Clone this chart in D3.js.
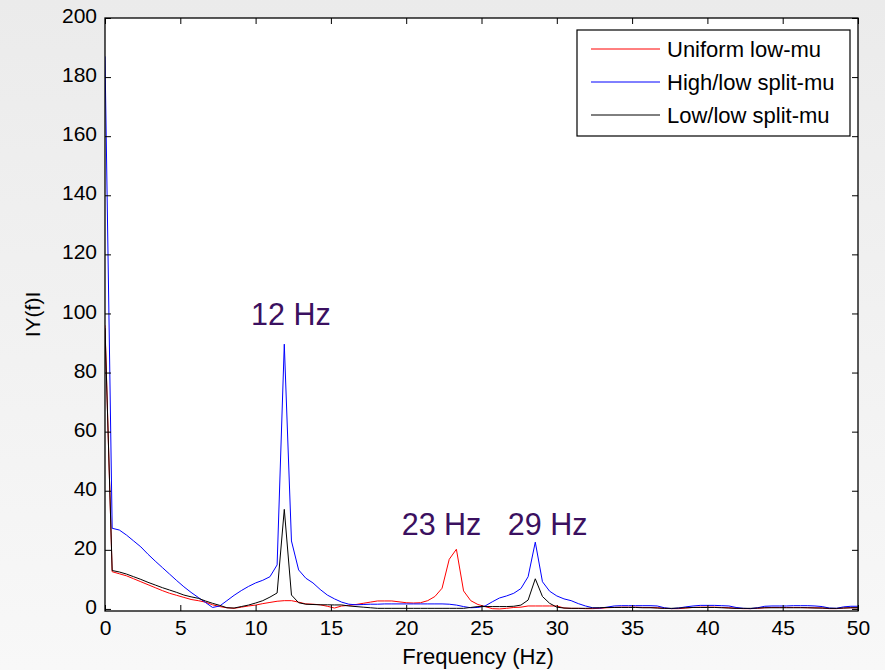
<!DOCTYPE html>
<html>
<head>
<meta charset="utf-8">
<script src="https://cdn.jsdelivr.net/npm/d3@7"></script>
<style>
  html, body { margin: 0; padding: 0; }
  body { width: 885px; height: 670px; overflow: hidden; }
  svg { display: block; }
  text { font-family: "Liberation Sans", Arial, Helvetica, sans-serif; }
</style>
</head>
<body>
<svg id="chart" width="885" height="670"></svg>
<script>
// Spectrum sampled every 1/2.1 Hz from 0 to 50 Hz (106 bins)
const binCount = 106;
const binWidth = 1 / 2.1;

const seriesNames = ["Uniform low-mu", "High/low split-mu", "Low/low split-mu"];
const seriesColors = ["#ff0000", "#0000ff", "#000000"];

const uniformLow = [
  96, 12.6, 11.9, 11.2, 10.2, 9.2, 8.2, 7.2, 6.2, 5.3,
  4.6, 3.9, 3.2, 2.8, 2.3, 1.4, 0.8, 0.4, 0.2, 0.6,
  1.0, 1.3, 1.8, 2.2, 2.6, 2.8, 2.8, 2.3, 1.7, 1.6,
  1.4, 0.9, 0.3, 1.0, 1.2, 1.5, 1.9, 2.3, 2.7, 2.7,
  2.7, 2.4, 2.1, 2.0, 2.1, 2.8, 4.2, 7.0, 16.8, 20.2,
  6.1, 2.8, 1.5, 0.8, 0.1, 0.0, 0.2, 0.5, 0.6, 1.0,
  1.0, 1.0, 1.0, 1.0, 0.3, 0.2, 0.2, 0.1, 0.1, 0.2,
  0.4, 0.5, 0.6, 0.6, 0.6, 0.5, 0.5, 0.4, 0.2, 0.1,
  0.1, 0.3, 0.5, 0.6, 0.6, 0.6, 0.5, 0.4, 0.2, 0.1,
  0.1, 0.2, 0.4, 0.5, 0.5, 0.5, 0.5, 0.5, 0.4, 0.4,
  0.3, 0.1, 0.1, 0.3, 0.4, 0.4
];

const highLowSplit = [
  187, 27.3, 26.7, 25.0, 23.0, 21.0, 18.5, 16.2, 14.0, 11.8,
  9.6, 7.5, 5.6, 3.9, 2.2, 0.5, 1.0, 2.8, 4.6, 6.2,
  7.6, 8.8, 9.7, 10.9, 14.9, 89.6, 23.0, 13.2, 10.4, 8.8,
  6.6, 4.7, 3.4, 2.3, 1.6, 1.4, 1.5, 1.6, 1.6, 1.7,
  1.7, 1.7, 1.7, 1.7, 1.7, 1.7, 1.7, 1.7, 1.6, 1.3,
  0.8, 0.4, 0.5, 1.0, 2.4, 3.7, 4.4, 5.3, 6.9, 10.9,
  22.6, 9.2, 6.0, 4.4, 3.4, 2.8, 1.8, 1.0, 0.4, 0.3,
  0.6, 1.0, 1.1, 1.1, 1.1, 1.1, 1.1, 1.0, 0.4, 0.1,
  0.3, 0.7, 1.0, 1.2, 1.2, 1.2, 1.1, 1.0, 0.5, 0.2,
  0.1, 0.4, 0.9, 1.0, 1.0, 1.0, 1.1, 1.1, 1.1, 1.0,
  0.8, 0.3, 0.2, 0.7, 0.9, 0.9
];

const lowLowSplit = [
  95, 13.0, 12.5, 11.8, 10.9, 10.0, 9.0, 8.1, 7.2, 6.4,
  5.6, 4.7, 4.1, 3.6, 2.7, 1.9, 1.2, 0.4, 0.3, 0.8,
  1.3, 2.0, 2.8, 4.0, 5.4, 33.7, 4.7, 2.1, 1.6, 1.5,
  1.4, 1.4, 1.35, 1.35, 1.0, 0.8, 0.6, 0.4, 0.2, 0.2,
  0.2, 0.2, 0.2, 0.2, 0.2, 0.2, 0.2, 0.2, 0.2, 0.2,
  0.2, 0.5, 0.8, 0.8, 0.8, 0.8, 0.8, 0.9, 1.3, 3.0,
  10.2, 4.2, 1.9, 0.6, 0.3, 0.2, 0.2, 0.2, 0.3, 0.4,
  0.5, 0.5, 0.5, 0.5, 0.5, 0.4, 0.4, 0.3, 0.2, 0.2,
  0.3, 0.4, 0.5, 0.5, 0.5, 0.5, 0.4, 0.3, 0.2, 0.2,
  0.2, 0.3, 0.4, 0.4, 0.4, 0.4, 0.4, 0.4, 0.4, 0.3,
  0.3, 0.2, 0.2, 0.3, 0.4, 0.4
];

const xTicks = [0, 5, 10, 15, 20, 25, 30, 35, 40, 45, 50];
const yTicks = [0, 20, 40, 60, 80, 100, 120, 140, 160, 180, 200];

const peakLabels = ["12 Hz", "23 Hz", "29 Hz"];
const peakLabelFreq = [9.7, 19.7, 26.75];
const peakLabelAmp = [96.1, 25, 25];

const xTitle = "Frequency (Hz)";
const yTitle = "IY(f)I";

// ---- layout ----
const W = 885, H = 670;
const plot = { left: 105, right: 858, top: 18, bottom: 611 };

const svg = d3.select("#chart");

// soft grey page background
const defs = svg.append("defs");
const grad = defs.append("linearGradient")
  .attr("id", "bg").attr("x1", 0).attr("y1", 0).attr("x2", 0).attr("y2", 1);
grad.append("stop").attr("offset", "0%").attr("stop-color", "#ebebeb");
grad.append("stop").attr("offset", "100%").attr("stop-color", "#f8f8f8");
svg.append("rect").attr("width", W).attr("height", H).attr("fill", "url(#bg)");

const x = d3.scaleLinear().domain([0, 50]).range([plot.left, plot.right]);
const y = d3.scaleLinear().domain([-0.7, 200]).range([plot.bottom, plot.top]);

// white axes area
svg.append("rect")
  .attr("x", plot.left).attr("y", plot.top)
  .attr("width", plot.right - plot.left).attr("height", plot.bottom - plot.top)
  .attr("fill", "#ffffff");

const freqs = d3.range(binCount).map(i => i * binWidth);
const allSeries = [uniformLow, highLowSplit, lowLowSplit];

const clip = defs.append("clipPath").attr("id", "plotClip");
clip.append("rect")
  .attr("x", plot.left).attr("y", plot.top)
  .attr("width", plot.right - plot.left).attr("height", plot.bottom - plot.top);

const line = d3.line()
  .x((d, i) => x(freqs[i]))
  .y(d => y(d));

const lines = svg.append("g").attr("clip-path", "url(#plotClip)");
allSeries.forEach((vals, k) => {
  lines.append("path")
    .datum(vals)
    .attr("d", line)
    .attr("fill", "none")
    .attr("stroke", seriesColors[k])
    .attr("stroke-width", 1)
    .attr("stroke-linejoin", "miter");
});

// axes: ticks pointing inward, labels outside
const tickLen = 6;
const axisFont = 21;

const xAxisBottom = d3.axisBottom(x).tickValues(xTicks).tickSizeInner(-tickLen).tickSizeOuter(0).tickPadding(9);
const gxb = svg.append("g").attr("transform", `translate(0,${plot.bottom})`).call(xAxisBottom);
gxb.select(".domain").remove();
gxb.selectAll("line").attr("stroke", "#000");
gxb.selectAll("text").attr("font-size", axisFont).attr("fill", "#000")
  .attr("font-family", "Liberation Sans, Arial, sans-serif");

const xAxisTop = d3.axisTop(x).tickValues(xTicks).tickSizeInner(-tickLen).tickSizeOuter(0).tickFormat("");
const gxt = svg.append("g").attr("transform", `translate(0,${plot.top})`).call(xAxisTop);
gxt.select(".domain").remove();
gxt.selectAll("line").attr("stroke", "#000");

const yAxisLeft = d3.axisLeft(y).tickValues(yTicks).tickSizeInner(-tickLen).tickSizeOuter(0).tickPadding(8);
const gyl = svg.append("g").attr("transform", `translate(${plot.left},0)`).call(yAxisLeft);
gyl.select(".domain").remove();
gyl.selectAll("line").attr("stroke", "#000");
gyl.selectAll("text").attr("font-size", axisFont).attr("fill", "#000")
  .attr("dy", "0.22em")
  .attr("font-family", "Liberation Sans, Arial, sans-serif");

const yAxisRight = d3.axisRight(y).tickValues(yTicks).tickSizeInner(-tickLen).tickSizeOuter(0).tickFormat("");
const gyr = svg.append("g").attr("transform", `translate(${plot.right},0)`).call(yAxisRight);
gyr.select(".domain").remove();
gyr.selectAll("line").attr("stroke", "#000");

// box
svg.append("rect")
  .attr("x", plot.left).attr("y", plot.top)
  .attr("width", plot.right - plot.left).attr("height", plot.bottom - plot.top)
  .attr("fill", "none").attr("stroke", "#000").attr("stroke-width", 1.3);

// axis titles
svg.append("text")
  .attr("x", 478).attr("y", 664)
  .attr("text-anchor", "middle").attr("font-size", 22).attr("fill", "#000")
  .text(xTitle);

svg.append("text")
  .attr("transform", `translate(40,${(plot.top + plot.bottom) / 2}) rotate(-90)`)
  .attr("text-anchor", "middle").attr("font-size", 21).attr("fill", "#000")
  .text(yTitle);

// peak annotations
peakLabels.forEach((t, k) => {
  svg.append("text")
    .attr("x", x(peakLabelFreq[k])).attr("y", y(peakLabelAmp[k]))
    .attr("font-size", 30.5).attr("fill", "#3b1060")
    .text(t);
});

// legend
const lg = { x: 577, y: 30, w: 273, h: 106 };
svg.append("rect")
  .attr("x", lg.x).attr("y", lg.y).attr("width", lg.w).attr("height", lg.h)
  .attr("fill", "#fff").attr("stroke", "#000").attr("stroke-width", 1.2);
seriesNames.forEach((name, k) => {
  const cy = lg.y + 19 + k * 33;
  svg.append("line")
    .attr("x1", lg.x + 14).attr("x2", lg.x + 83)
    .attr("y1", cy).attr("y2", cy)
    .attr("stroke", seriesColors[k]).attr("stroke-width", 1);
  svg.append("text")
    .attr("x", lg.x + 90).attr("y", cy + 8)
    .attr("font-size", 22).attr("fill", "#000")
    .text(name);
});
</script>
</body>
</html>
